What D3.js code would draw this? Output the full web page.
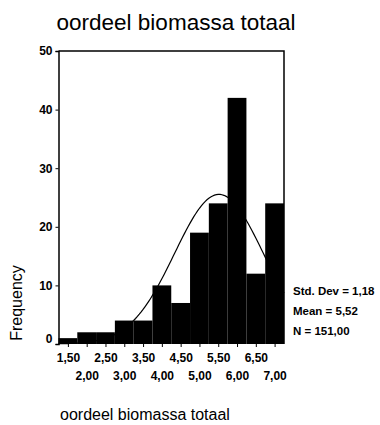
<!DOCTYPE html>
<html>
<head>
<meta charset="utf-8">
<script src="https://cdn.jsdelivr.net/npm/d3@7"></script>
<style>
  body { margin: 0; background: #fff; }
  svg { display: block; font-family: "Liberation Sans", Arial, sans-serif; }
</style>
</head>
<body>
<svg width="380" height="425"></svg>
<script>
// Histogram data (bin midpoints, bin width 0.5)
const binMids = [1.5, 2.0, 2.5, 3.0, 3.5, 4.0, 4.5, 5.0, 5.5, 6.0, 6.5, 7.0];
const counts = [1, 2, 2, 4, 4, 10, 7, 19, 24, 42, 12, 24];
const yTicks = [0, 10, 20, 30, 40, 50];
const statLines = ['Std. Dev = 1,18', 'Mean = 5,52', 'N = 151,00'];
const stdDev = 1.18;
const mean = 5.52;
const total = 151;
const binWidth = 0.5;

const svg = d3.select('svg');

// Plot frame
const plotLeft = 58.5, plotRight = 284, plotTop = 51, plotBottom = 344;

const x = d3.scaleLinear().domain([1.25, 7.25]).range([plotLeft, plotRight]);
const y = d3.scaleLinear().domain([0, 50]).range([plotBottom, plotTop]);

const comma = v => d3.format('.2f')(v).replace('.', ',');

// Title
svg.append('text')
  .attr('x', 176).attr('y', 30)
  .attr('text-anchor', 'middle')
  .attr('font-size', 22.5)
  .text('oordeel biomassa totaal');

// Frame (top and right)
svg.append('path')
  .attr('d', `M${plotLeft},${plotTop}H${plotRight}V${plotBottom}`)
  .attr('fill', 'none')
  .attr('stroke', '#000')
  .attr('stroke-width', 1.5);

// Bars
svg.selectAll('.bar')
  .data(binMids.map((m, i) => ({ m, c: counts[i] })))
  .enter().append('rect')
    .attr('class', 'bar')
    .attr('x', d => x(d.m - binWidth / 2))
    .attr('width', d => x(d.m + binWidth / 2) - x(d.m - binWidth / 2))
    .attr('y', d => y(d.c))
    .attr('height', d => plotBottom - y(d.c))
    .attr('fill', '#000');

// Fitted normal curve
const pdf = v => total * binWidth / (stdDev * Math.sqrt(2 * Math.PI)) *
  Math.exp(-0.5 * Math.pow((v - mean) / stdDev, 2));
const curvePts = d3.range(1.25, 7.2501, 0.05);
svg.append('path')
  .datum(curvePts)
  .attr('fill', 'none')
  .attr('stroke', '#000')
  .attr('stroke-width', 1.2)
  .attr('d', d3.line().x(d => x(d)).y(d => y(pdf(d))));

// Y axis
const yAxis = svg.append('g')
  .attr('transform', `translate(${plotLeft},0)`)
  .call(d3.axisLeft(y).tickValues(yTicks).tickSize(3).tickPadding(3));
yAxis.select('.domain').attr('stroke-width', 1.5);
yAxis.selectAll('text')
  .attr('font-size', 12).attr('font-weight', 'bold')
  .attr('font-family', '"Liberation Sans", Arial, sans-serif')
  .attr('dy', d => d === 0 ? '-0.15em' : '0.32em');

// X axis with two rows of labels
const xAxis = svg.append('g')
  .attr('transform', `translate(0,${plotBottom})`)
  .call(d3.axisBottom(x).tickValues(binMids).tickSize(3).tickPadding(4).tickFormat(comma));
xAxis.select('.domain').remove();
xAxis.selectAll('text')
  .attr('font-size', 12).attr('font-weight', 'bold')
  .attr('font-family', '"Liberation Sans", Arial, sans-serif')
  .attr('dy', (d, i) => i % 2 === 0 ? '0.95em' : '2.45em');

// Frequency label
svg.append('text')
  .attr('transform', 'translate(22,303) rotate(-90)')
  .attr('text-anchor', 'middle')
  .attr('font-size', 16)
  .text('Frequency');

// Stats
svg.selectAll('.stat')
  .data(statLines)
  .enter().append('text')
    .attr('class', 'stat')
    .attr('x', 293)
    .attr('y', (d, i) => 295 + i * 20)
    .attr('font-size', 11.5)
    .attr('font-weight', 'bold')
    .text(d => d);

// X axis title
svg.append('text')
  .attr('x', 60).attr('y', 420)
  .attr('font-size', 16)
  .text('oordeel biomassa totaal');
</script>
</body>
</html>
